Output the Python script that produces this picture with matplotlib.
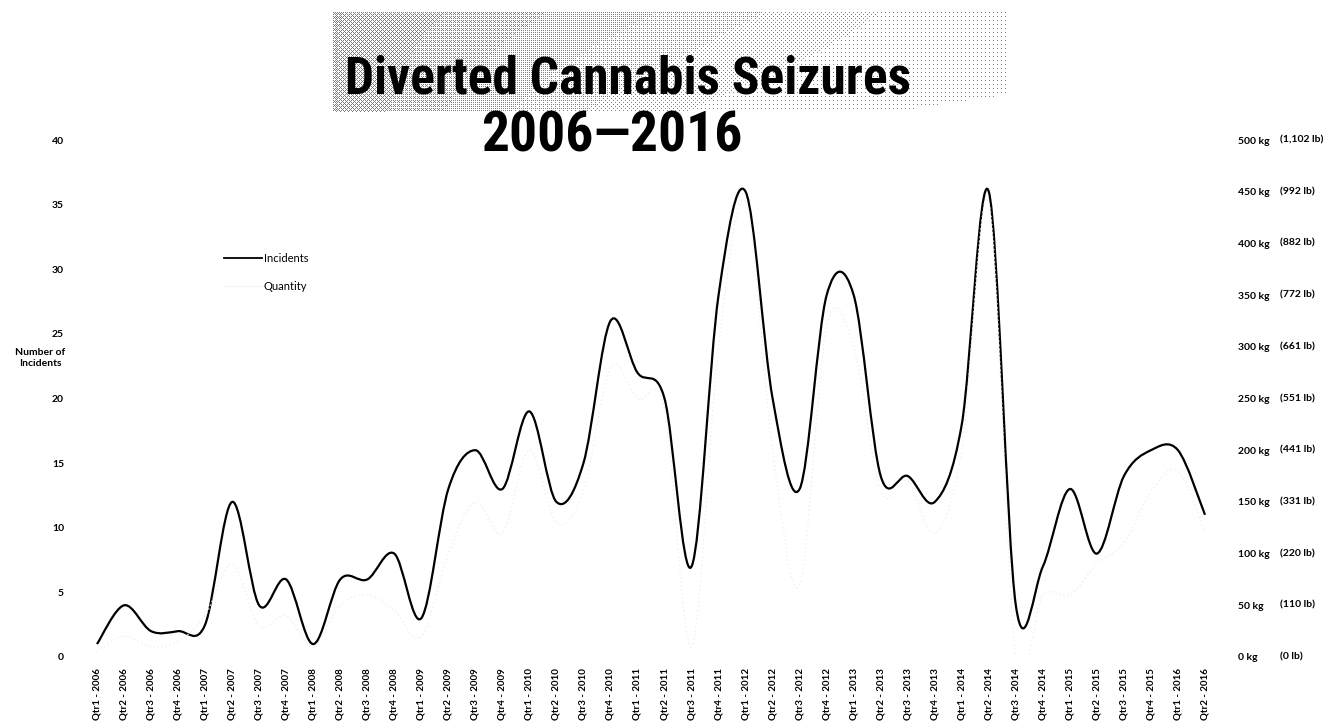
import matplotlib
matplotlib.use("Agg")
import matplotlib.pyplot as plt
from matplotlib.path import Path
from matplotlib.patches import PathPatch
from matplotlib.lines import Line2D
from matplotlib import font_manager
import matplotlib.transforms as mtransforms
import numpy as np

# === DATA ===
quarters = [f"Qtr{q} - {y}" for y in range(2006, 2017) for q in range(1, 5)][:42]
incidents = [1, 4, 2, 2, 2.5, 12, 4, 6, 1, 6, 6, 8, 3, 13, 16, 13, 19, 12, 15, 26,
             22, 20, 7, 28, 36, 20, 13, 28, 28, 14, 14, 12, 18, 36, 4, 7, 13, 8, 14, 16,
             16, 11]
quantity_kg = [5, 20, 10, 15, 40, 90, 30, 40, 10, 50, 60, 45, 20, 100, 150, 120, 200, 130,
               160, 280, 250, 240, 10, 300, 440, 200, 70, 320, 300, 160, 170, 120, 200, 440,
               0, 60, 60, 90, 110, 160, 180, 120]
left_ticks = [0, 5, 10, 15, 20, 25, 30, 35, 40]
kg_ticks = [0, 50, 100, 150, 200, 250, 300, 350, 400, 450, 500]
lb_labels = ["(0 lb)", "(110 lb)", "(220 lb)", "(331 lb)", "(441 lb)", "(551 lb)",
             "(661 lb)", "(772 lb)", "(882 lb)", "(992 lb)", "(1,102 lb)"]

W, H = 1331, 727
TICK_FONT = ["Lato", "DejaVu Sans"]


def condensed_family():
    # the title is set in a bold narrow face; take whatever narrow bold is installed
    names = {f.name for f in font_manager.fontManager.ttflist}
    for cand in ["Liberation Sans Narrow", "DejaVu Sans Condensed", "Roboto Condensed",
                 "Open Sans Condensed", "Noto Sans Condensed"]:
        if cand in names:
            return cand
    for f in font_manager.fontManager.ttflist:
        if "condensed" in str(f.stretch) and f.weight in (600, 700, 800, "bold"):
            return f.name
    return "Liberation Sans"


def smooth_path(xs, ys):
    # excel style smoothed line: cubic bezier through every point
    pts = np.column_stack([xs, ys]).astype(float)
    n = len(pts)
    verts = [pts[0]]
    codes = [Path.MOVETO]
    for i in range(n - 1):
        p0 = pts[i - 1] if i > 0 else pts[i]
        p1 = pts[i]
        p2 = pts[i + 1]
        p3 = pts[i + 2] if i + 2 < n else pts[i + 1]
        c1 = p1 + (p2 - p0) / 6.0
        c2 = p2 - (p3 - p1) / 6.0
        verts += [c1, c2, p2]
        codes += [Path.CURVE4] * 3
    return Path(verts, codes)


fig = plt.figure(figsize=(W / 100, H / 100), dpi=100)

# halftone title band (ordered dither of a grey gradient)
bx0, bx1, by0, by1 = 333, 1010, 12, 112
bw, bh = bx1 - bx0, by1 - by0
bayer = np.array([[0, 8, 2, 10], [12, 4, 14, 6], [3, 11, 1, 9], [15, 7, 13, 5]]) / 16.0
gx = np.linspace(0, 1, bw)
gy = np.linspace(0, 1, bh)
dens = 0.38 * (1 - gx[None, :]) ** 1.1 * (1 - 0.6 * gy[:, None] * gx[None, :] * 2).clip(0, 1)
thr = np.tile(bayer, (bh // 4 + 1, bw // 4 + 1))[:bh, :bw]
dots = (dens > thr).astype(float)
img = np.ones((bh, bw, 3)) - dots[..., None] * 0.5
bax = fig.add_axes([bx0 / W, 1 - by1 / H, bw / W, bh / H])
bax.imshow(img, interpolation="nearest", aspect="auto")
bax.axis("off")

# main axes, first point at x=97px, last at 1205px, y 0 at 657px, 40 at 140px
step = (1205 - 97) / 41
ax_l = 97 - 0.5 * step
ax_r = 1205 + 0.5 * step
ax = fig.add_axes([ax_l / W, 1 - 657 / H, (ax_r - ax_l) / W, (657 - 140) / H])
x = np.arange(len(quarters))

ax.set_xlim(-0.5, len(quarters) - 0.5)
ax.set_ylim(0, 40)
for s in ax.spines.values():
    s.set_visible(False)
ax.tick_params(length=0)
ax.set_xticks(x)
ax.set_xticklabels(quarters, rotation=90, fontsize=7, fontweight="bold", family=TICK_FONT)
ax.set_yticks(left_ticks)
ax.set_yticklabels([str(t) for t in left_ticks], fontsize=7.5, fontweight="bold",
                   family=TICK_FONT)
ax.tick_params(axis="y", pad=14)
ax.tick_params(axis="x", pad=8)

ax2 = ax.twinx()
ax2.set_ylim(0, 500)
for s in ax2.spines.values():
    s.set_visible(False)
ax2.tick_params(length=0, pad=14)
ax2.set_yticks(kg_ticks)
ax2.set_yticklabels([f"{k} kg" for k in kg_ticks], fontsize=7.5, fontweight="bold",
                    family=TICK_FONT)
trans = mtransforms.blended_transform_factory(fig.transFigure, ax2.transData)
for k, lb in zip(kg_ticks, lb_labels):
    ax2.text(1280 / W, k, lb, transform=trans, fontsize=7.5, fontweight="bold",
             family=TICK_FONT, va="center", ha="left")

# quantity: very faint in the scan
ax2.add_patch(PathPatch(smooth_path(x, quantity_kg), facecolor="none",
                        edgecolor="#efefef", lw=1.0, ls=(0, (1, 2))))
# incidents
ax.add_patch(PathPatch(smooth_path(x, incidents), facecolor="none",
                       edgecolor="black", lw=1.6, zorder=3))

handles = [Line2D([], [], color="black", lw=1.3),
           Line2D([], [], color="#f4f4f4", lw=1.0)]
fig.legend(handles, ["Incidents", "Quantity"], loc="upper left",
           bbox_to_anchor=(214 / W, 1 - 243 / H), frameon=False,
           handlelength=3.4, handletextpad=0.2, labelspacing=1.5,
           prop={"family": TICK_FONT, "size": 8})

fig.text(40 / W, 1 - 358 / H, "Number of\nIncidents", ha="center", va="center",
         fontsize=7.5, fontweight="bold", family=TICK_FONT, linespacing=1.2)

title_font = [condensed_family(), "DejaVu Sans"]
fig.text(628 / W, 1 - 80 / H, "Diverted Cannabis Seizures", ha="center", va="center",
         fontsize=37, fontweight="bold", family=title_font, fontstretch="condensed")
fig.text(612 / W, 1 - 137 / H, "2006\u20142016", ha="center", va="center",
         fontsize=40, fontweight="bold", family=title_font, fontstretch="condensed")

fig.savefig("out.png", dpi=100)
